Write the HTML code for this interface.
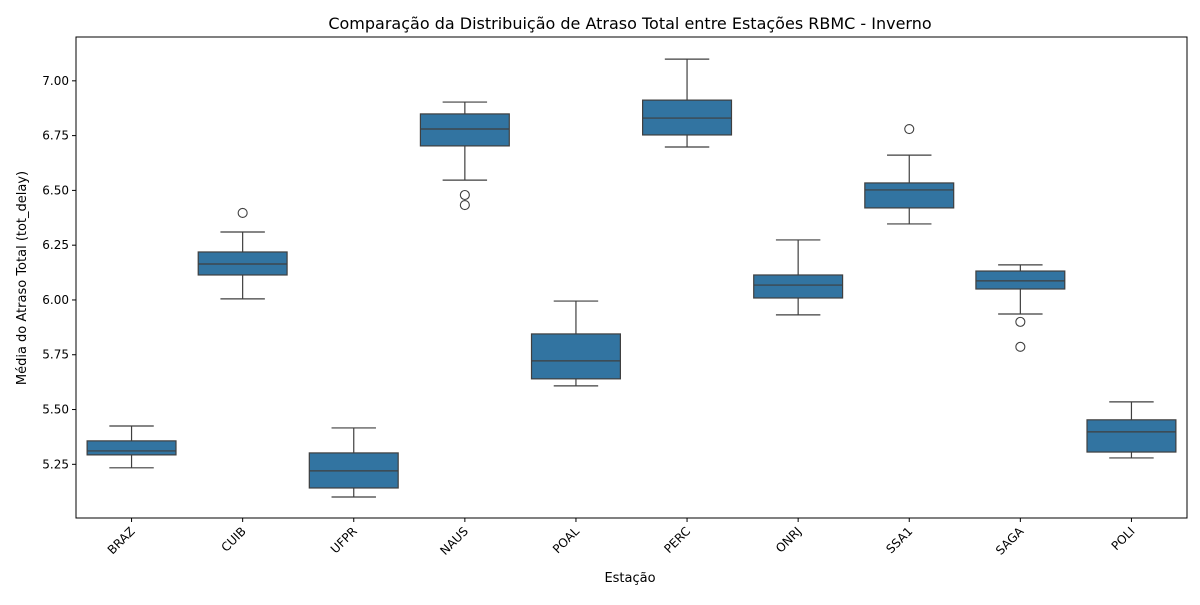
<!DOCTYPE html>
<html><head><meta charset="utf-8"><style>
body{margin:0;background:#fff;font-family:"Liberation Sans","DejaVu Sans",sans-serif}
svg text{font-family:"DejaVu Sans","Liberation Sans",sans-serif;fill:#000}
</style></head><body>
<svg id="chart" width="1200" height="600" xmlns="http://www.w3.org/2000/svg">
<rect width="1200" height="600" fill="#fff"/>
<text x="630" y="29" text-anchor="middle" font-size="16">Comparação da Distribuição de Atraso Total entre Estações RBMC - Inverno</text>
<text x="630" y="582" text-anchor="middle" font-size="13">Estação</text>
<text transform="translate(26,278) rotate(-90)" text-anchor="middle" font-size="13">Média do Atraso Total (tot_delay)</text>
<g id="marks"></g>
<rect x="76" y="37" width="1111" height="481" fill="none" stroke="#000" stroke-width="1"/>
</svg>
<script>
const categories=["BRAZ","CUIB","UFPR","NAUS","POAL","PERC","ONRJ","SSA1","SAGA","POLI"];
const whiskerLow=[5.234,6.005,5.101,6.547,5.608,6.698,5.932,6.347,5.936,5.279];
const q1=[5.293,6.114,5.142,6.703,5.640,6.753,6.009,6.420,6.050,5.306];
const median=[5.311,6.164,5.220,6.780,5.722,6.830,6.068,6.502,6.087,5.398];
const q3=[5.357,6.219,5.302,6.849,5.845,6.912,6.114,6.534,6.132,5.453];
const whiskerHigh=[5.425,6.310,5.416,6.903,5.995,7.099,6.274,6.661,6.160,5.535];
const outliers=[[],[6.397],[],[6.479,6.433],[],[],[],[6.780],[5.900,5.786],[]];
const yTicks=[5.25,5.50,5.75,6.00,6.25,6.50,6.75,7.00];
const yMin=5.005,yMax=7.2;
const L=76,R=1187,T=37,B=518;
const ns="http://www.w3.org/2000/svg";
const g=document.getElementById('marks');
const xs=i=>L+(i+0.5)*(R-L)/categories.length;
const ys=v=>B-(v-yMin)/(yMax-yMin)*(B-T);
function mk(tag,attrs,parent){const e=document.createElementNS(ns,tag);for(const k in attrs)e.setAttribute(k,attrs[k]);(parent||g).appendChild(e);return e;}
yTicks.forEach(t=>{
 const y=ys(t);
 const tk=mk('line',{x1:L-4,x2:L,y1:y,y2:y,stroke:'#000'});
 
 
 const tx=mk('text',{x:L-7,y:y+4,'text-anchor':'end','font-size':'12'});
 tx.textContent=t.toFixed(2);
 
 
});
const bw=0.8*(R-L)/categories.length, cw=bw/2;
categories.forEach((c,i)=>{
 const x=xs(i);
 const tk=mk('line',{x1:x,x2:x,y1:B,y2:B+4,stroke:'#000'});
 
 
 const tx=mk('text',{transform:`translate(${x+4},${B+14}) rotate(-45)`,'text-anchor':'end','font-size':'12'});
 tx.textContent=c;
 
 
 const grp=mk('g',{});
 
 
 const st={stroke:'#3f3f3f','stroke-width':1.2};
 mk('line',Object.assign({x1:x,x2:x,y1:ys(whiskerLow[i]),y2:ys(q1[i])},st),grp);
 mk('line',Object.assign({x1:x,x2:x,y1:ys(q3[i]),y2:ys(whiskerHigh[i])},st),grp);
 mk('line',Object.assign({x1:x-cw/2,x2:x+cw/2,y1:ys(whiskerLow[i]),y2:ys(whiskerLow[i])},st),grp);
 mk('line',Object.assign({x1:x-cw/2,x2:x+cw/2,y1:ys(whiskerHigh[i]),y2:ys(whiskerHigh[i])},st),grp);
 mk('rect',Object.assign({x:x-bw/2,y:ys(q3[i]),width:bw,height:ys(q1[i])-ys(q3[i]),fill:'#3274a1'},st),grp);
 mk('line',Object.assign({x1:x-bw/2,x2:x+bw/2,y1:ys(median[i]),y2:ys(median[i])},st),grp);
 outliers[i].forEach(o=>{
  const p=mk('circle',{cx:x,cy:ys(o),r:4.5,fill:'none',stroke:'#3f3f3f','stroke-width':1.1},grp);
  
  
 });
});
</script>
</body></html>
